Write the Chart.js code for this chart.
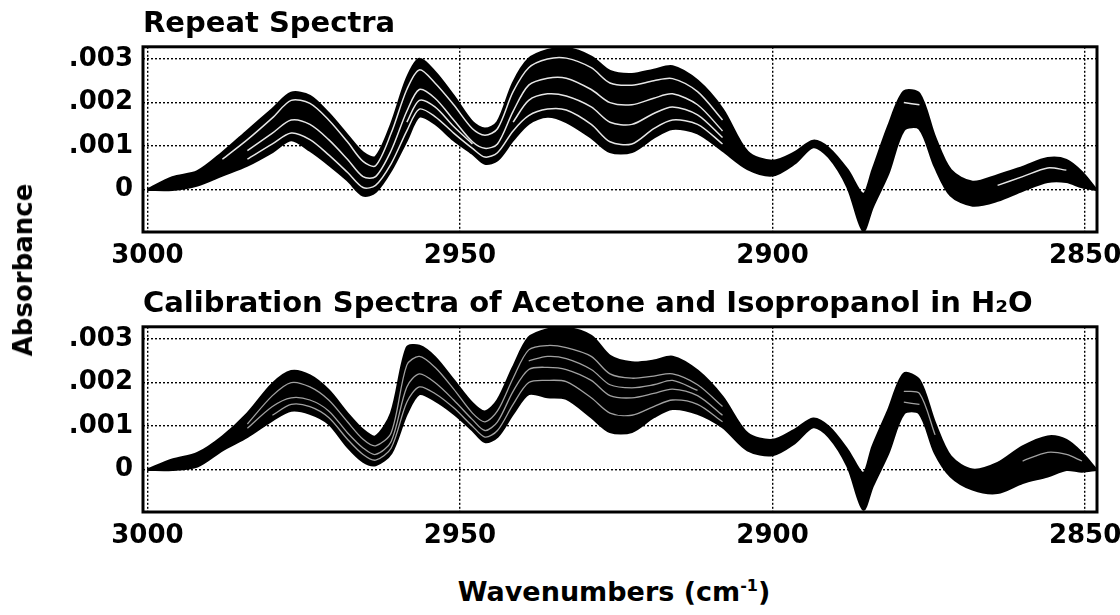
<!DOCTYPE html>
<html>
<head>
<meta charset="utf-8">
<script src="https://cdn.jsdelivr.net/npm/chart.js@4.4.1/dist/chart.umd.min.js"></script>
<style>
  body { margin: 0; background: #fff; }
  #wrap { position: relative; width: 1120px; height: 615px; font-family: "DejaVu Sans", sans-serif; font-weight: bold; color: #000; }
  canvas { position: absolute; left: 0; }
  #repeatChart { top: 0; }
  #calibChart { top: 280px; }
  .axisLabel { position: absolute; white-space: nowrap; z-index: 2; }
  #yLabel { left: 23px; top: 270px; font-size: 26px; transform: translate(-50%, -50%) rotate(-90deg); }
  #xLabel { left: 614px; top: 576px; font-size: 27px; line-height: 32px; transform: translateX(-50%); }
  #xLabel sup { font-size: 16px; line-height: 0; vertical-align: 10px; }
</style>
</head>
<body>
<div id="wrap">
  <canvas id="repeatChart" width="1120" height="275"></canvas>
  <canvas id="calibChart" width="1120" height="275"></canvas>
  <div class="axisLabel" id="yLabel">Absorbance</div>
  <div class="axisLabel" id="xLabel">Wavenumbers (cm<sup>-1</sup>)</div>
</div>
<script>
// sumbu x: bilangan gelombang (cm-1), sumbu y: absorbansi dalam satuan 10^-3
const wavenumbers = [3000, 2996, 2992, 2988, 2984, 2980, 2977, 2974, 2971, 2968,
  2965.5, 2963.5, 2961, 2958.5, 2956.5, 2954, 2951, 2948, 2946, 2944,
  2941.5, 2939, 2936, 2933, 2929, 2926, 2922.5, 2919, 2916, 2912,
  2908, 2904, 2900, 2896.5, 2893.5, 2891, 2888, 2885.5, 2884, 2881.5,
  2879, 2876.5, 2874, 2871.5, 2868, 2864, 2860, 2856, 2853, 2850.5,
  2848.2];

// Repeat Spectra: batas atas / bawah pita spektrum dan garis terang di dalamnya
const repeatUpper = [0.0, 0.28, 0.42, 0.85, 1.35, 1.85, 2.22, 2.15, 1.75, 1.25,
  0.85, 0.75, 1.5, 2.55, 3.0, 2.7, 2.15, 1.55, 1.4, 1.55,
  2.45, 3.0, 3.2, 3.25, 3.05, 2.72, 2.65, 2.75, 2.83, 2.5,
  1.85, 0.87, 0.66, 0.85, 1.12, 0.95, 0.45, -0.1, 0.45, 1.45,
  2.25, 2.2, 1.2, 0.45, 0.18, 0.33, 0.52, 0.72, 0.68, 0.4,
  0.0];
const repeatLower = [0.0, 0.0, 0.1, 0.33, 0.56, 0.87, 1.14, 0.9, 0.58, 0.22,
  -0.13, -0.05, 0.45, 1.14, 1.68, 1.52, 1.14, 0.83, 0.6, 0.68,
  1.14, 1.52, 1.68, 1.56, 1.2, 0.87, 0.87, 1.2, 1.4, 1.3,
  0.9, 0.48, 0.33, 0.6, 0.98, 0.75, 0.06, -0.94, -0.4, 0.37,
  1.37, 1.4, 0.52, -0.13, -0.36, -0.25, -0.02, 0.18, 0.18, 0.06,
  0.0];
const repeatStreak1 = [null, null, null, 0.7, 1.15, 1.65, 2.05, 1.98, 1.6, 1.1,
  0.65, 0.55, 1.3, 2.3, 2.75, 2.45, 1.95, 1.4, 1.25, 1.4,
  2.25, 2.8, 3.0, 3.02, 2.8, 2.45, 2.4, 2.5, 2.55, 2.25,
  1.6, null, null, null, null, null, null, null, null, null,
  2.0, 1.95, null, null, null, null, null, null, null, null,
  null];
const repeatStreak2 = [null, null, null, null, 0.9, 1.3, 1.6, 1.5, 1.15, 0.7,
  0.3, 0.3, 0.9, 1.8, 2.3, 2.1, 1.6, 1.1, 0.95, 1.05,
  1.8, 2.4, 2.56, 2.56, 2.3, 2.0, 1.95, 2.1, 2.2, 1.95,
  1.35, null, null, null, null, null, null, null, null, null,
  null, null, null, null, null, 0.1, 0.3, 0.5, 0.45, null,
  null];
const repeatStreak3 = [null, null, null, null, 0.7, 1.05, 1.3, 1.15, 0.8, 0.4,
  0.05, 0.1, 0.6, 1.35, 1.85, 1.68, 1.3, 0.95, 0.75, 0.85,
  1.35, 1.7, 1.85, 1.83, 1.5, 1.1, 1.05, 1.4, 1.6, 1.5,
  1.05, null, null, null, null, null, null, null, null, null,
  null, null, null, null, null, null, null, null, null, null,
  null];
const repeatStreak4 = [null, null, null, null, null, null, null, null, null, null,
  null, null, null, 1.55, 2.05, 1.9, 1.45, 1.05, null, null,
  1.55, 2.05, 2.2, 2.15, 1.9, 1.55, 1.5, 1.75, 1.9, 1.72,
  1.2, null, null, null, null, null, null, null, null, null,
  null, null, null, null, null, null, null, null, null, null,
  null];

// Calibration Spectra
const calibUpper = [0.0, 0.23, 0.38, 0.76, 1.29, 1.97, 2.26, 2.16, 1.82, 1.29,
  0.91, 0.76, 1.3, 2.8, 2.84, 2.58, 2.05, 1.52, 1.33, 1.59,
  2.35, 3.03, 3.22, 3.26, 3.07, 2.61, 2.46, 2.5, 2.59, 2.27,
  1.67, 0.83, 0.68, 0.91, 1.17, 0.98, 0.45, -0.08, 0.53, 1.36,
  2.2, 2.05, 1.06, 0.3, 0.0, 0.15, 0.53, 0.76, 0.68, 0.38,
  0.0];
const calibLower = [0.0, 0.0, 0.08, 0.45, 0.76, 1.14, 1.36, 1.29, 1.06, 0.53,
  0.19, 0.11, 0.38, 1.29, 1.74, 1.59, 1.29, 0.91, 0.64, 0.76,
  1.29, 1.74, 1.67, 1.63, 1.21, 0.87, 0.87, 1.21, 1.4, 1.29,
  0.98, 0.45, 0.34, 0.61, 0.98, 0.76, 0.08, -0.91, -0.38, 0.38,
  1.29, 1.29, 0.38, -0.15, -0.45, -0.53, -0.3, -0.15, 0.0, -0.04,
  0.0];
const calibStreak1 = [null, null, null, null, 1.05, 1.7, 2.0, 1.9, 1.6, 1.1,
  0.7, 0.55, 0.85, 2.4, 2.6, 2.35, 1.85, 1.3, 1.1, 1.35,
  2.1, 2.75, 2.85, 2.8, 2.6, 2.2, 2.1, 2.15, 2.2, 1.95,
  1.45, null, null, null, null, null, null, null, null, null,
  1.8, 1.75, 0.8, null, null, null, null, null, null, null,
  null];
const calibStreak2 = [null, null, null, null, 0.95, 1.45, 1.65, 1.6, 1.35, 0.85,
  0.5, 0.35, 0.65, 1.9, 2.2, 2.0, 1.6, 1.15, 0.9, 1.1,
  1.8, 2.3, 2.35, 2.3, 2.05, 1.7, 1.65, 1.75, 1.85, 1.7,
  1.25, null, null, null, null, null, null, null, null, null,
  null, null, null, null, null, null, 0.2, 0.4, 0.35, 0.2,
  null];
const calibStreak3 = [null, null, null, null, null, 1.25, 1.5, 1.45, 1.2, 0.7,
  0.35, 0.22, 0.5, 1.55, 1.9, 1.75, 1.42, 1.0, 0.75, 0.9,
  1.5, 2.0, 2.05, 2.02, 1.65, 1.3, 1.25, 1.45, 1.6, 1.5,
  1.1, null, null, null, null, null, null, null, null, null,
  1.55, 1.5, null, null, null, null, null, null, null, null,
  null];
const calibStreak4 = [null, null, null, null, null, null, null, null, null, null,
  null, null, null, null, null, null, null, null, null, null,
  null, 2.5, 2.6, 2.55, 2.3, 1.95, 1.88, 1.95, 2.05, 1.82,
  null, null, null, null, null, null, null, null, null, null,
  null, null, null, null, null, null, null, null, null, null,
  null];

const xTickValues = [3000, 2950, 2900, 2850];
const yTickValues = [0, 0.001, 0.002, 0.003];
const yTickLabels = ['0', '.001', '.002', '.003'];
const xRange = [2848.1, 3000.7];
const yRange = [-0.00097, 0.00328];
const MILLI = 0.001;

Chart.defaults.font.family = 'DejaVu Sans';
Chart.defaults.font.weight = 'bold';
Chart.defaults.color = '#000';

function toPoints(values) {
  return wavenumbers.map((w, i) => ({ x: w, y: values[i] === null ? null : values[i] * MILLI }));
}

// bingkai hitam tebal di sekeliling area grafik
const framePlugin = {
  id: 'frame',
  afterDraw(chart) {
    const { ctx, chartArea: a } = chart;
    ctx.save();
    ctx.strokeStyle = '#000';
    ctx.lineWidth = 3;
    ctx.strokeRect(a.left, a.top, a.right - a.left, a.bottom - a.top);
    ctx.restore();
  }
};

function makePanel(canvasId, title, upper, lower, streaks, streakColor, streakWidth) {
  const datasets = [
    { data: toPoints(upper), borderColor: '#000', backgroundColor: '#000', borderWidth: 2.5, fill: '+1' },
    { data: toPoints(lower), borderColor: '#000', borderWidth: 2.5, fill: false }
  ];
  streaks.forEach(s => {
    datasets.push({ data: toPoints(s), borderColor: streakColor, borderWidth: streakWidth, fill: false });
  });

  return new Chart(document.getElementById(canvasId), {
    type: 'line',
    data: { datasets: datasets },
    plugins: [framePlugin],
    options: {
      responsive: false,
      animation: false,
      layout: { padding: { left: 0, right: 23, top: 0, bottom: 0 } },
      elements: { point: { radius: 0 }, line: { tension: 0.3 } },
      plugins: {
        legend: { display: false },
        tooltip: { enabled: false },
        filler: { drawTime: 'beforeDatasetsDraw' },
        title: {
          display: true,
          text: title,
          align: 'start',
          fullSize: false,
          color: '#000',
          font: { size: 29, weight: 'bold' },
          padding: { top: 7, bottom: 5 }
        }
      },
      scales: {
        x: {
          type: 'linear',
          reverse: true,
          min: xRange[0],
          max: xRange[1],
          afterBuildTicks: s => { s.ticks = xTickValues.map(v => ({ value: v })); },
          afterFit: s => { s.height = 43; s.paddingLeft = 0; s.paddingRight = 0; },
          ticks: {
            autoSkip: false,
            maxRotation: 0,
            padding: 9,
            font: { size: 26, weight: 'bold' },
            callback: v => String(v)
          },
          grid: { color: '#000', lineWidth: 1.4, drawTicks: false },
          border: { display: false, dash: [2, 2] }
        },
        y: {
          type: 'linear',
          min: yRange[0],
          max: yRange[1],
          afterBuildTicks: s => { s.ticks = yTickValues.map(v => ({ value: v })); },
          afterFit: s => { s.width = 143; },
          ticks: {
            padding: 10,
            font: { size: 26, weight: 'bold' },
            callback: (v, i) => yTickLabels[i]
          },
          grid: { color: '#000', lineWidth: 1.4, drawTicks: false },
          border: { display: false, dash: [2, 2] }
        }
      }
    }
  });
}

makePanel('repeatChart', 'Repeat Spectra', repeatUpper, repeatLower,
  [repeatStreak1, repeatStreak2, repeatStreak3, repeatStreak4], 'rgba(255,255,255,0.9)', 1.5);
makePanel('calibChart', 'Calibration Spectra of Acetone and Isopropanol in H\u2082O', calibUpper, calibLower,
  [calibStreak1, calibStreak2, calibStreak3, calibStreak4], 'rgba(170,170,170,0.95)', 1.3);
</script>
</body>
</html>
